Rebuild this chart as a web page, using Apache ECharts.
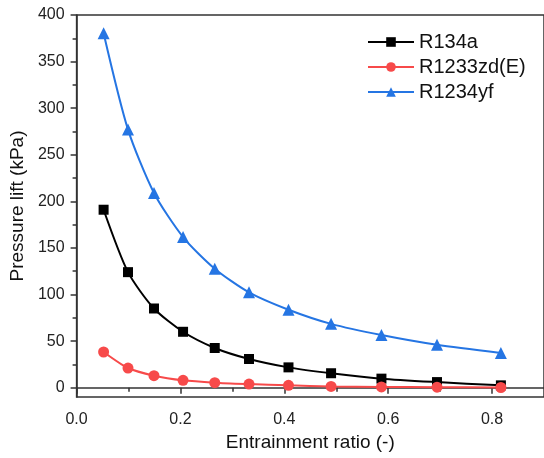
<!DOCTYPE html>
<html><head><meta charset="utf-8">
<script src="https://cdn.jsdelivr.net/npm/echarts@6/dist/echarts.min.js"></script>
<style>html,body{margin:0;padding:0;background:#fff}#c{width:544px;height:458px}</style>
</head><body><div id="c"></div>
<script>
const seriesNames = ['R134a', 'R1233zd(E)', 'R1234yf'];
const entrainment = [0.052, 0.099, 0.149, 0.205, 0.266, 0.332, 0.408, 0.490, 0.587, 0.694, 0.817];
const r134a = [191, 124, 85, 60, 42.6, 30.8, 21.8, 15.5, 9.7, 6.0, 2.5];
const r1233 = [38.3, 21.1, 12.9, 7.9, 5.4, 3.9, 2.5, 1.4, 0.8, 0.5, 0.2];
const r1234 = [380.5, 277, 209, 161.7, 127.7, 102.3, 83.7, 68.5, 56.5, 46, 37.2];
const yMajor = [0, 50, 100, 150, 200, 250, 300, 350, 400];
const yMinor = [25, 75, 125, 175, 225, 275, 325, 375];
const xMajor = [0, 0.2, 0.4, 0.6, 0.8];
const xMinor = [0.1, 0.3, 0.5, 0.7];

const font = 'Liberation Sans, Arial, sans-serif';
const axisCol = '#333';
const pairs = (xs, ys) => xs.map((x, i) => [x, ys[i]]);

const chart = echarts.init(document.getElementById('c'));
chart.setOption({
  animation: false,
  grid: { left: 73, top: 15, right: -4, bottom: 61, show: true, borderColor: axisCol, borderWidth: 1.5 },
  legend: {
    data: seriesNames,
    left: 367, top: 32, orient: 'vertical', padding: 0,
    itemWidth: 46, itemHeight: 12, itemGap: 5,
    textStyle: { fontFamily: font, fontSize: 20, color: '#111' }
  },
  xAxis: [
    {
      type: 'value', min: 0, max: 0.9, position: 'bottom',
      name: 'Entrainment ratio (-)', nameLocation: 'middle', nameGap: 31,
      nameTextStyle: { fontFamily: font, fontSize: 19, color: '#111' },
      axisLine: { show: true, lineStyle: { color: axisCol, width: 1.5 } },
      axisTick: { show: true, inside: false, length: 6, customValues: xMajor, lineStyle: { color: axisCol, width: 1.5 } },
      axisLabel: { customValues: xMajor, margin: 15, fontFamily: font, fontSize: 16, color: '#222', formatter: v => v.toFixed(1) },
      splitLine: { show: false }
    },
    {
      type: 'value', min: 0, max: 0.9, position: 'bottom',
      axisLine: { show: false },
      axisTick: { show: true, length: 4, customValues: xMinor, lineStyle: { color: axisCol, width: 1.5 } },
      axisLabel: { show: false },
      splitLine: { show: false }
    }
  ],
  yAxis: [
    {
      type: 'value', min: -10, max: 400,
      name: 'Pressure lift (kPa)', nameLocation: 'middle', nameGap: 40,
      nameTextStyle: { fontFamily: font, fontSize: 19, color: '#111' },
      axisLine: { show: true, lineStyle: { color: axisCol, width: 1.5 } },
      axisTick: { show: true, length: 6, customValues: yMajor, lineStyle: { color: axisCol, width: 1.5 } },
      axisLabel: { customValues: yMajor, margin: 12, fontFamily: font, fontSize: 16, color: '#222' },
      splitLine: { show: false }
    },
    {
      type: 'value', min: -10, max: 400, position: 'left',
      axisLine: { show: false },
      axisTick: { show: true, length: 4, customValues: yMinor, lineStyle: { color: axisCol, width: 1.5 } },
      axisLabel: { show: false },
      splitLine: { show: false }
    }
  ],
  series: [
    { name: seriesNames[0], type: 'line', smooth: 0.25, data: pairs(entrainment, r134a),
      symbol: 'rect', symbolSize: 10, color: '#000', lineStyle: { width: 2 }, itemStyle: { color: '#000' } },
    { name: seriesNames[1], type: 'line', smooth: 0.25, data: pairs(entrainment, r1233),
      symbol: 'circle', symbolSize: 11, color: '#f74a4a', lineStyle: { width: 2 }, itemStyle: { color: '#f74a4a' } },
    { name: seriesNames[2], type: 'line', smooth: 0.25, data: pairs(entrainment, r1234),
      symbol: 'triangle', symbolSize: 12, color: '#2575e3', lineStyle: { width: 2 }, itemStyle: { color: '#2575e3' } }
  ]
});
</script></body></html>
